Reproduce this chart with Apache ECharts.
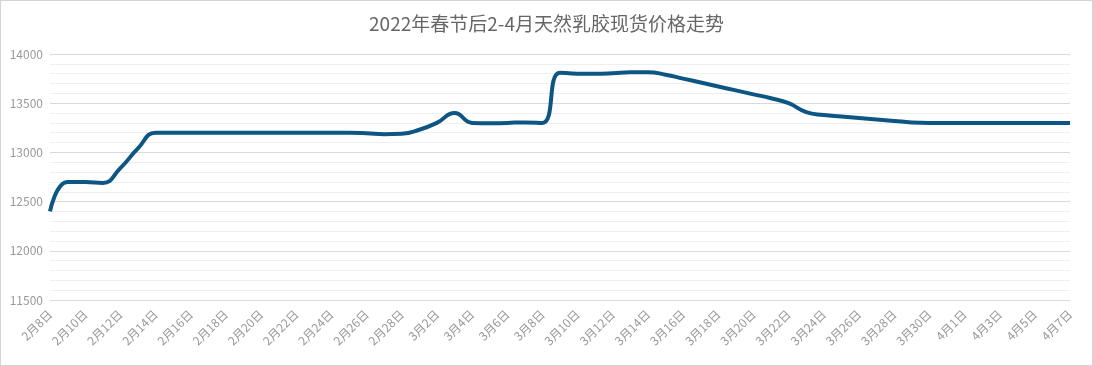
<!DOCTYPE html>
<html>
<head>
<meta charset="utf-8">
<script src="https://cdn.jsdelivr.net/npm/echarts@6/dist/echarts.min.js"></script>
<style>
html,body{margin:0;padding:0;background:#fff;}
#c{width:1093px;height:366px;box-sizing:border-box;border:1px solid #d4d4d4;}
</style>
</head>
<body>
<div id="c"></div>
<script>
var titleText = '2022年春节后2-4月天然乳胶现货价格走势';
var categories = [
 '2月8日','2月9日','2月10日','2月11日','2月12日','2月13日','2月14日','2月15日','2月16日','2月17日',
 '2月18日','2月19日','2月20日','2月21日','2月22日','2月23日','2月24日','2月25日','2月26日','2月27日',
 '2月28日','3月1日','3月2日','3月3日','3月4日','3月5日','3月6日','3月7日','3月8日','3月9日',
 '3月10日','3月11日','3月12日','3月13日','3月14日','3月15日','3月16日','3月17日','3月18日','3月19日',
 '3月20日','3月21日','3月22日','3月23日','3月24日','3月25日','3月26日','3月27日','3月28日','3月29日',
 '3月30日','3月31日','4月1日','4月2日','4月3日','4月4日','4月5日','4月6日','4月7日'
];
var prices = [
 12400,12700,12700,12690,12840,13040,13200,13200,13200,13200,
 13200,13200,13200,13200,13200,13200,13200,13200,13195,13185,
 13190,13230,13300,13400,13300,13295,13300,13305,13300,13810,
 13800,13800,13805,13815,13815,13790,13750,13710,13670,13630,
 13590,13550,13500,13410,13380,13365,13350,13335,13320,13305,
 13300,13300,13300,13300,13300,13300,13300,13300,13300
];
var yMin = 11500, yMax = 14000, yStep = 500;

var chart = echarts.init(document.getElementById('c'));
chart.setOption({
  animation: false,
  title: {
    text: titleText, left: 'center', top: 8,
    textStyle: {color: '#666', fontSize: 19, fontWeight: 'normal', fontFamily: 'Noto Sans CJK SC'}
  },
  grid: {left: 49, right: 22, top: 53, bottom: 65, containLabel: false},
  xAxis: {
    type: 'category', data: categories, boundaryGap: false,
    axisLine: {show: false}, axisTick: {show: false},
    axisLabel: {rotate: 45, interval: 1, color: '#999', fontSize: 12, margin: 12, fontFamily: 'Noto Sans CJK SC'}
  },
  yAxis: {
    type: 'value', min: yMin, max: yMax, interval: yStep,
    axisLine: {show: false}, axisTick: {show: false},
    axisLabel: {color: '#999', fontSize: 12, margin: 7, fontFamily: 'Noto Sans CJK SC',
      formatter: function (v) { return String(v); }},
    splitLine: {lineStyle: {color: '#d9d9d9', width: 1}},
    minorTick: {show: false, splitNumber: 5},
    minorSplitLine: {show: true, lineStyle: {color: '#efefef', width: 1}}
  },
  series: [{
    type: 'line', data: prices, smooth: true, showSymbol: false,
    lineStyle: {color: '#0d5684', width: 4},
    itemStyle: {color: '#0d5684'}
  }]
});
</script>
</body>
</html>
